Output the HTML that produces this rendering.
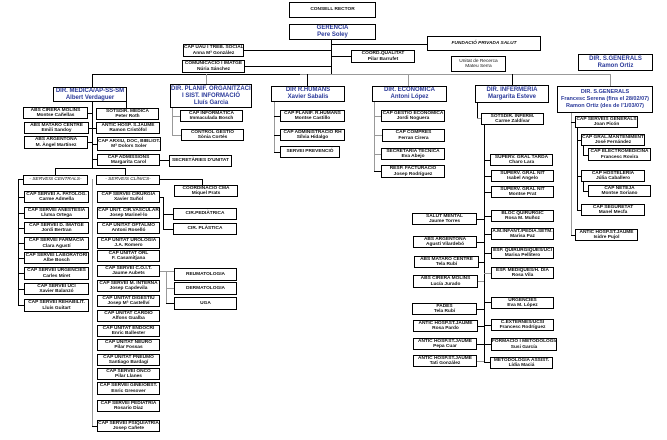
<!DOCTYPE html>
<html><head><meta charset="utf-8"><style>
body{margin:0;width:667px;height:440px;background:#fff;position:relative;overflow:hidden}
.b{position:absolute;box-sizing:border-box;border:1px solid #000;background:#fff;font:bold 4.8px/5.3px "Liberation Sans",sans-serif;text-align:center;display:flex;flex-direction:column;justify-content:center;white-space:nowrap;overflow:hidden;color:#111}
.d{color:#2b3a9a;font-size:6px;line-height:7px;border-width:1.3px}
.l{position:absolute;background:#000}
.g{position:absolute;background:#999}
</style></head><body>
<div class="l" style="left:331px;top:39px;width:1px;height:36px"></div>
<div class="l" style="left:244px;top:50px;width:87px;height:1px"></div>
<div class="l" style="left:245px;top:66px;width:86px;height:1px"></div>
<div class="l" style="left:331px;top:56px;width:20px;height:1px"></div>
<div class="l" style="left:331px;top:44px;width:96px;height:1px"></div>
<div class="l" style="left:92px;top:74px;width:518px;height:1px"></div>
<div class="g" style="left:300px;top:74px;width:310px;height:1px"></div>
<div class="l" style="left:92px;top:74px;width:1px;height:13px"></div>
<div class="g" style="left:206px;top:74px;width:1px;height:10px"></div>
<div class="l" style="left:307px;top:74px;width:1px;height:12px"></div>
<div class="g" style="left:408px;top:74px;width:1px;height:12px"></div>
<div class="l" style="left:512px;top:74px;width:1px;height:11px"></div>
<div class="g" style="left:610px;top:74px;width:1px;height:12px"></div>
<div class="l" style="left:92px;top:101px;width:1px;height:67px"></div>
<div class="l" style="left:126px;top:101px;width:1px;height:7px"></div>
<div class="l" style="left:88px;top:113px;width:4px;height:1px"></div>
<div class="l" style="left:89px;top:128px;width:3px;height:1px"></div>
<div class="l" style="left:88px;top:142px;width:4px;height:1px"></div>
<div class="l" style="left:92px;top:128px;width:4px;height:1px"></div>
<div class="l" style="left:92px;top:144px;width:5px;height:1px"></div>
<div class="l" style="left:92px;top:159px;width:5px;height:1px"></div>
<div class="l" style="left:160px;top:160px;width:9px;height:1px"></div>
<div class="l" style="left:55px;top:168px;width:70px;height:1px"></div>
<div class="l" style="left:55px;top:168px;width:1px;height:7px"></div>
<div class="l" style="left:125px;top:168px;width:1px;height:7px"></div>
<div class="l" style="left:18px;top:179px;width:6px;height:1px"></div>
<div class="l" style="left:18px;top:179px;width:1px;height:127px"></div>
<div class="l" style="left:18px;top:197px;width:6px;height:1px"></div>
<div class="l" style="left:18px;top:213px;width:6px;height:1px"></div>
<div class="l" style="left:18px;top:228px;width:6px;height:1px"></div>
<div class="l" style="left:18px;top:243px;width:6px;height:1px"></div>
<div class="l" style="left:18px;top:258px;width:6px;height:1px"></div>
<div class="l" style="left:18px;top:273px;width:6px;height:1px"></div>
<div class="l" style="left:18px;top:289px;width:6px;height:1px"></div>
<div class="l" style="left:18px;top:305px;width:6px;height:1px"></div>
<div class="g" style="left:92px;top:179px;width:1px;height:247px"></div>
<div class="l" style="left:92px;top:426px;width:5px;height:1px"></div>
<div class="l" style="left:160px;top:179px;width:42px;height:1px"></div>
<div class="l" style="left:202px;top:179px;width:1px;height:6px"></div>
<div class="l" style="left:160px;top:197px;width:3px;height:1px"></div>
<div class="l" style="left:163px;top:197px;width:1px;height:32px"></div>
<div class="l" style="left:163px;top:214px;width:10px;height:1px"></div>
<div class="l" style="left:163px;top:229px;width:10px;height:1px"></div>
<div class="g" style="left:160px;top:271px;width:14px;height:1px"></div>
<div class="g" style="left:166px;top:271px;width:1px;height:32px"></div>
<div class="g" style="left:166px;top:288px;width:8px;height:1px"></div>
<div class="l" style="left:166px;top:303px;width:8px;height:1px"></div>
<div class="g" style="left:172px;top:107px;width:1px;height:28px"></div>
<div class="g" style="left:172px;top:116px;width:8px;height:1px"></div>
<div class="g" style="left:172px;top:135px;width:9px;height:1px"></div>
<div class="g" style="left:274px;top:101px;width:1px;height:51px"></div>
<div class="l" style="left:274px;top:116px;width:6px;height:1px"></div>
<div class="l" style="left:274px;top:135px;width:6px;height:1px"></div>
<div class="l" style="left:274px;top:152px;width:6px;height:1px"></div>
<div class="g" style="left:374px;top:101px;width:1px;height:71px"></div>
<div class="g" style="left:374px;top:116px;width:7px;height:1px"></div>
<div class="g" style="left:374px;top:135px;width:8px;height:1px"></div>
<div class="g" style="left:374px;top:154px;width:7px;height:1px"></div>
<div class="l" style="left:374px;top:171px;width:7px;height:1px"></div>
<div class="l" style="left:477px;top:102px;width:1px;height:16px"></div>
<div class="g" style="left:477px;top:118px;width:4px;height:1px"></div>
<div class="l" style="left:484px;top:125px;width:1px;height:237px"></div>
<div class="l" style="left:484px;top:160px;width:6px;height:1px"></div>
<div class="l" style="left:484px;top:176px;width:7px;height:1px"></div>
<div class="l" style="left:484px;top:192px;width:7px;height:1px"></div>
<div class="l" style="left:484px;top:216px;width:7px;height:1px"></div>
<div class="l" style="left:484px;top:234px;width:7px;height:1px"></div>
<div class="l" style="left:484px;top:253px;width:7px;height:1px"></div>
<div class="g" style="left:484px;top:273px;width:7px;height:1px"></div>
<div class="l" style="left:484px;top:302px;width:7px;height:1px"></div>
<div class="l" style="left:484px;top:325px;width:7px;height:1px"></div>
<div class="l" style="left:484px;top:344px;width:7px;height:1px"></div>
<div class="l" style="left:484px;top:362px;width:6px;height:1px"></div>
<div class="l" style="left:477px;top:219px;width:7px;height:1px"></div>
<div class="l" style="left:477px;top:242px;width:7px;height:1px"></div>
<div class="l" style="left:479px;top:262px;width:5px;height:1px"></div>
<div class="g" style="left:478px;top:281px;width:6px;height:1px"></div>
<div class="l" style="left:477px;top:309px;width:7px;height:1px"></div>
<div class="l" style="left:478px;top:326px;width:6px;height:1px"></div>
<div class="l" style="left:477px;top:344px;width:7px;height:1px"></div>
<div class="g" style="left:477px;top:361px;width:7px;height:1px"></div>
<div class="g" style="left:571px;top:112px;width:1px;height:123px"></div>
<div class="l" style="left:571px;top:235px;width:4px;height:1px"></div>
<div class="l" style="left:571px;top:122px;width:4px;height:1px"></div>
<div class="l" style="left:577px;top:128px;width:1px;height:82px"></div>
<div class="l" style="left:577px;top:140px;width:4px;height:1px"></div>
<div class="l" style="left:577px;top:176px;width:4px;height:1px"></div>
<div class="l" style="left:577px;top:210px;width:4px;height:1px"></div>
<div class="l" style="left:583px;top:146px;width:1px;height:9px"></div>
<div class="l" style="left:583px;top:155px;width:5px;height:1px"></div>
<div class="l" style="left:583px;top:182px;width:1px;height:9px"></div>
<div class="l" style="left:583px;top:191px;width:5px;height:1px"></div>

<div class="b" style="left:289px;top:2px;width:87px;height:16px">CONSELL RECTOR</div>
<div class="b d" style="left:289px;top:24px;width:87px;height:16px">GERÈNCIA<br>Pere Soley</div>
<div class="b" style="left:183px;top:44px;width:61px;height:13px">CAP UAU I TREB. SOCIAL<br>Anna Mª González</div>
<div class="b" style="left:182px;top:60px;width:63px;height:13px">COMUNICACIÓ I IMATGE<br>Núria Sánchez</div>
<div class="b" style="left:351px;top:50px;width:64px;height:13px">COORD.QUALITAT<br>Pilar Barrufet</div>
<div class="b" style="left:427px;top:36px;width:114px;height:15px;font-style:italic">FUNDACIÓ PRIVADA SALUT</div>
<div class="b" style="left:451px;top:56px;width:55px;height:16px;font-weight:normal">Unitat de Recerca<br>Mateu Serra</div>
<div class="b d" style="left:578px;top:54px;width:75px;height:17px">DIR. S.GENERALS<br>Ramon Ortiz</div>

<div class="b d" style="left:53px;top:87px;width:74px;height:15px">DIR. MÈDICA/AP-SS-SM<br>Albert Verdaguer</div>
<div class="b d" style="left:170px;top:84px;width:82px;height:24px">DIR. PLANIF. ORGANITZACIÓ<br>I SIST. INFORMACIÓ<br>Lluís Garcia</div>
<div class="b d" style="left:271px;top:86px;width:74px;height:16px">DIR R.HUMANS<br>Xavier Sabalis</div>
<div class="b d" style="left:372px;top:86px;width:75px;height:16px">DIR. ECONÒMICA<br>Antoni López</div>
<div class="b d" style="left:475px;top:85px;width:74px;height:18px">DIR. INFERMERIA<br>Margarita Esteve</div>
<div class="b d" style="left:557px;top:86px;width:96px;height:27px;font-size:5.5px">DIR. S.GENERALS<br>Francesc Serena (fins el 28/02/07)<br>Ramon Ortiz (des de l'1/03/07)</div>

<div class="b" style="left:23px;top:107px;width:65px;height:12px">ABS CIRERA MOLINS<br>Montse Cañellas</div>
<div class="b" style="left:24px;top:122px;width:65px;height:12px">ABS MATARÓ CENTRE<br>Emili Sandoy</div>
<div class="b" style="left:24px;top:136px;width:64px;height:13px">ABS ARGENTONA<br>M. Àngel Martínez</div>
<div class="b" style="left:96px;top:108px;width:63px;height:12px">SOTSDIR. MÈDICA<br>Peter Roth</div>
<div class="b" style="left:96px;top:122px;width:64px;height:12px">ANTIC HOSP. S.JAUME<br>Ramon Cristòfol</div>
<div class="b" style="left:97px;top:137px;width:64px;height:14px">CAP ARXIU, DOC, BIBLIOT.<br>Mª Dolors Soler</div>
<div class="b" style="left:97px;top:154px;width:63px;height:12px">CAP ADMISSIONS<br>Margarita Carol</div>
<div class="b" style="left:169px;top:155px;width:63px;height:12px">SECRETÀRIES D'UNITAT</div>

<div class="b" style="left:180px;top:110px;width:63px;height:12px">CAP INFORMÀTICA<br>Immaculada Bosch</div>
<div class="b" style="left:181px;top:129px;width:63px;height:12px">CONTROL GESTIÓ<br>Sònia Cortés</div>
<div class="b" style="left:280px;top:110px;width:65px;height:12px">CAP PLANIF. R.HUMANS<br>Montse Castillo</div>
<div class="b" style="left:280px;top:129px;width:65px;height:12px">CAP ADMINISTRACIÓ RH<br>Sílvia Hidalgo</div>
<div class="b" style="left:280px;top:146px;width:60px;height:12px">SERVEI PREVENCIÓ</div>
<div class="b" style="left:381px;top:110px;width:64px;height:12px">CAP GESTIÓ ECONÒMICA<br>Jordi Noguera</div>
<div class="b" style="left:382px;top:129px;width:63px;height:13px">CAP COMPRES<br>Ferran Cirera</div>
<div class="b" style="left:381px;top:148px;width:64px;height:12px">SECRETARIA TÈCNICA<br>Eva Abejo</div>
<div class="b" style="left:381px;top:165px;width:64px;height:13px">RESP. FACTURACIÓ<br>Josep Rodríguez</div>

<div class="b" style="left:481px;top:113px;width:63px;height:12px">SOTSDIR. INFERM.<br>Carme Zaldívar</div>
<div class="b" style="left:490px;top:154px;width:63px;height:12px">SUPERV. GRAL TARDA<br>Charo Lara</div>
<div class="b" style="left:491px;top:170px;width:63px;height:12px">SUPERV. GRAL NIT<br>Isabel Angelo</div>
<div class="b" style="left:491px;top:186px;width:63px;height:12px">SUPERV. GRAL NIT<br>Montse Prat</div>
<div class="b" style="left:491px;top:210px;width:63px;height:12px">BLOC QUIRÚRGIC<br>Rosa M. Muñoz</div>
<div class="b" style="left:491px;top:228px;width:63px;height:12px">A.M.INFANT./PEDIA.SETM.<br>Marisa Paz</div>
<div class="b" style="left:491px;top:247px;width:63px;height:12px">ESP. QUIRÚRGIQUES/UCI<br>Marisa Pellitero</div>
<div class="b" style="left:491px;top:267px;width:63px;height:12px">ESP. MÈDIQUES/H. DIA<br>Rosa Vila</div>
<div class="b" style="left:491px;top:297px;width:63px;height:12px">URGÈNCIES<br>Eva M. López</div>
<div class="b" style="left:491px;top:319px;width:63px;height:12px">C.EXTERNES/UCSI<br>Francesc Rodríguez</div>
<div class="b" style="left:491px;top:338px;width:66px;height:13px">FORMACIÓ I METODOLOGIA<br>Susi García</div>
<div class="b" style="left:490px;top:357px;width:63px;height:12px">METODOLOGIA ASSIST.<br>Lídia Maciá</div>
<div class="b" style="left:412px;top:213px;width:65px;height:12px">SALUT MENTAL<br>Jaume Torres</div>
<div class="b" style="left:413px;top:236px;width:64px;height:12px">ABS ARGENTONA<br>Agustí Vilardebó</div>
<div class="b" style="left:414px;top:256px;width:65px;height:12px">ABS MATARÓ CENTRE<br>Tela Rubí</div>
<div class="b" style="left:413px;top:275px;width:65px;height:13px">ABS CIRERA MOLINS<br>Lucía Jurado</div>
<div class="b" style="left:412px;top:303px;width:65px;height:12px">PADES<br>Tela Rubí</div>
<div class="b" style="left:413px;top:320px;width:65px;height:12px">ANTIC HOSP.ST.JAUME<br>Rosa Pardo</div>
<div class="b" style="left:413px;top:338px;width:64px;height:12px">ANTIC HOSP.ST.JAUME<br>Pepa Cuar</div>
<div class="b" style="left:413px;top:355px;width:64px;height:12px">ANTIC HOSP.ST.JAUME<br>Tati González</div>

<div class="b" style="left:575px;top:116px;width:63px;height:12px">CAP SERVEIS GENERALS<br>Joan Picón</div>
<div class="b" style="left:581px;top:134px;width:64px;height:12px">CAP GRAL.MANTENIMENT<br>José Fernández</div>
<div class="b" style="left:588px;top:148px;width:63px;height:13px">CAP ELECTROMEDICINA<br>Francesc Rovira</div>
<div class="b" style="left:581px;top:170px;width:64px;height:12px">CAP HOSTELERIA<br>Júlia Caballero</div>
<div class="b" style="left:588px;top:185px;width:63px;height:12px">CAP NETEJA<br>Montse Soriano</div>
<div class="b" style="left:581px;top:204px;width:64px;height:12px">CAP SEGURETAT<br>Manel Mecfa</div>
<div class="b" style="left:575px;top:229px;width:63px;height:12px">ANTIC HOSP.ST.JAUME<br>Isidre Pujol</div>

<div class="b" style="left:23px;top:175px;width:65px;height:10px;font-style:italic;font-weight:normal">- SERVEIS CENTRALS-</div>
<div class="b" style="left:96px;top:175px;width:64px;height:10px;font-style:italic;font-weight:normal">- SERVEIS CLÍNICS-</div>
<div class="b" style="left:24px;top:191px;width:65px;height:12px">CAP SERVEI A. PATOLOG.<br>Carme Admella</div>
<div class="b" style="left:24px;top:207px;width:65px;height:12px">CAP SERVEI ANESTÈSIA<br>Lluïsa Ortega</div>
<div class="b" style="left:24px;top:222px;width:65px;height:12px">CAP SERVEI D. IMATGE<br>Jordi Bertran</div>
<div class="b" style="left:24px;top:237px;width:65px;height:13px">CAP SERVEI FARMÀCIA<br>Clara Agustí</div>
<div class="b" style="left:24px;top:252px;width:65px;height:12px">CAP SERVEI LABORATORI<br>Albe Bosch</div>
<div class="b" style="left:24px;top:267px;width:65px;height:13px">CAP SERVEI URGÈNCIES<br>Carles Miret</div>
<div class="b" style="left:24px;top:283px;width:65px;height:12px">CAP SERVEI UCI<br>Xavier Balanzó</div>
<div class="b" style="left:24px;top:299px;width:65px;height:13px">CAP SERVEI REHABILIT.<br>Lluís Guitart</div>

<div class="b" style="left:97px;top:191px;width:63px;height:12px">CAP SERVEI CIRURGIA<br>Xavier Suñol</div>
<div class="b" style="left:97px;top:207px;width:63px;height:12px">CAP UNIT. CIR.VASCULAR<br>Josep Marinel·lo</div>
<div class="b" style="left:97px;top:222px;width:63px;height:12px">CAP UNITAT OFTALMO<br>Antoni Roselló</div>
<div class="b" style="left:97px;top:237px;width:63px;height:12px">CAP UNITAT UROLOGIA<br>J.A. Romero</div>
<div class="b" style="left:97px;top:250px;width:63px;height:12px">CAP UNITAT ORL<br>F. Casamitjana</div>
<div class="b" style="left:97px;top:265px;width:63px;height:12px">CAP SERVEI C.O.I.T.<br>Jaume Aubets</div>
<div class="b" style="left:97px;top:280px;width:63px;height:12px">CAP SERVEI M. INTERNA<br>Josep Capdevila</div>
<div class="b" style="left:97px;top:295px;width:63px;height:12px">CAP UNITAT DIGESTIU<br>Josep Mª Castellví</div>
<div class="b" style="left:97px;top:310px;width:63px;height:12px">CAP UNITAT CARDIO<br>Alfons Gualba</div>
<div class="b" style="left:97px;top:325px;width:63px;height:12px">CAP UNITAT ENDOCRÍ<br>Enric Ballester</div>
<div class="b" style="left:97px;top:339px;width:63px;height:12px">CAP UNITAT NEURO<br>Pilar Fossas</div>
<div class="b" style="left:97px;top:354px;width:63px;height:12px">CAP UNITAT PNEUMO<br>Santiago Bardagí</div>
<div class="b" style="left:97px;top:368px;width:63px;height:12px">CAP SERVEI ONCO<br>Pilar Llanes</div>
<div class="b" style="left:97px;top:382px;width:63px;height:13px">CAP SERVEI GINE/OBST.<br>Enric Gresover</div>
<div class="b" style="left:97px;top:400px;width:63px;height:12px">CAP SERVEI PEDIATRIA<br>Rosario Díaz</div>
<div class="b" style="left:97px;top:420px;width:63px;height:12px">CAP SERVEI PSIQUIATRIA<br>Josep Cañete</div>

<div class="b" style="left:174px;top:185px;width:64px;height:12px">COORDINACIÓ CMA<br>Miquel Prats</div>
<div class="b" style="left:173px;top:208px;width:64px;height:12px">CIR.PEDIÀTRICA</div>
<div class="b" style="left:173px;top:223px;width:64px;height:12px">CIR. PLÀSTICA</div>
<div class="b" style="left:174px;top:268px;width:63px;height:13px">REUMATOLOGIA</div>
<div class="b" style="left:174px;top:282px;width:63px;height:13px">DERMATOLOGIA</div>
<div class="b" style="left:174px;top:297px;width:63px;height:13px">UGA</div>
</body></html>
